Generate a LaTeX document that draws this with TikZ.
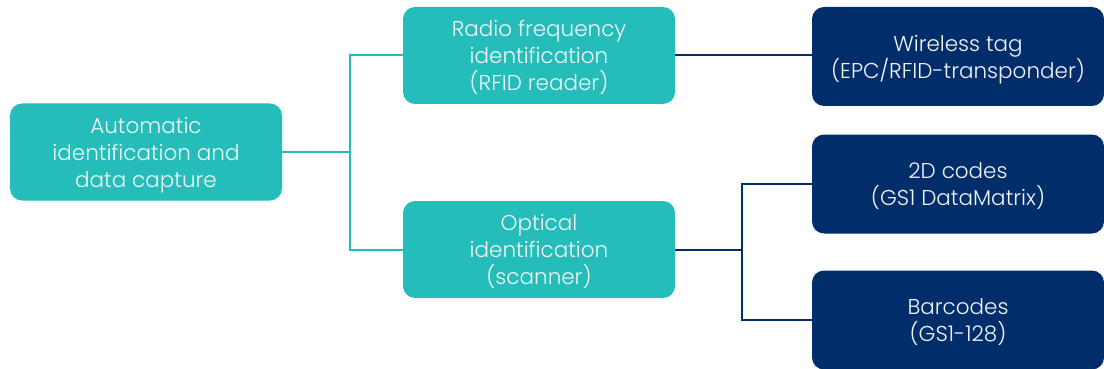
\documentclass[tikz,border=0pt]{standalone}
\usepackage{fontspec}
\setmainfont{Poppins}[UprightFont=* Light]
\definecolor{tealbox}{HTML}{25BDB9}
\definecolor{navybox}{HTML}{012E6B}
\definecolor{boxtext}{HTML}{F2F6F8}
\begin{document}
\begin{tikzpicture}[x=1pt,y=-1pt,
  basebox/.style={rounded corners=12pt, align=center, text=boxtext,
    font=\fontsize{21.5}{27}\selectfont, inner sep=0pt, text depth=0pt},
  tealnode/.style={basebox, fill=tealbox, minimum width=272pt, minimum height=97pt},
  navynode/.style={basebox, fill=navybox, minimum width=292pt, minimum height=99pt},
  tealline/.style={draw=tealbox, line width=2pt},
  navyline/.style={draw=navybox, line width=2pt}]
\useasboundingbox (0,0) rectangle (1104,369);
\node[tealnode] (root) at (146,152) {Automatic\\identification and\\data capture};
\node[tealnode] (radio) at (539,55.5) {Radio frequency\\identification\\(RFID reader)};
\node[tealnode] (optical) at (539,249.5) {Optical\\identification\\(scanner)};
\node[navynode] (wireless) at (958,56.5) {Wireless tag\\(EPC/RFID-transponder)};
\node[navynode] (codes) at (958,184) {2D codes\\(GS1 DataMatrix)};
\node[navynode] (barcodes) at (958,320) {Barcodes\\(GS1-128)};
\coordinate (j1) at (350,152);
\coordinate (j2) at (742,249.5);
\draw[tealline] (root.east) -- (j1);
\draw[tealline] (j1) |- (radio.west);
\draw[tealline] (j1) |- (optical.west);
\draw[navyline] (radio.east) -- (radio.east -| wireless.west);
\draw[navyline] (optical.east) -- (j2);
\draw[navyline] (j2) |- (codes.west);
\draw[navyline] (j2) |- (barcodes.west);
\end{tikzpicture}
\end{document}
